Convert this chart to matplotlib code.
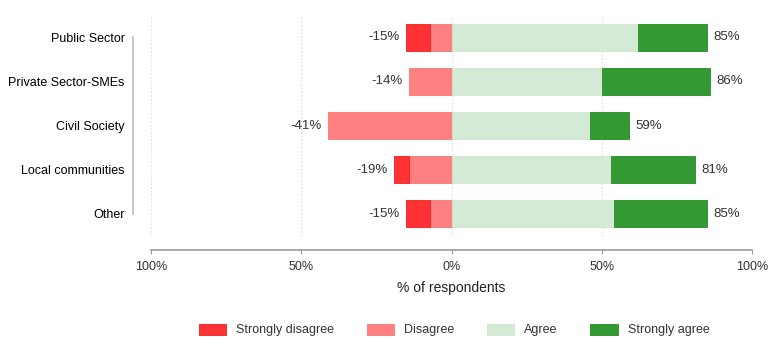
import numpy as np
import matplotlib.pyplot as plt
from matplotlib.ticker import FuncFormatter

plt.rcParams['font.family'] = ['Liberation Sans', 'DejaVu Sans']
plt.rcParams['font.size'] = 9

categories = ['Public Sector', 'Private Sector-SMEs', 'Civil Society',
              'Local communities', 'Other']
strongly_disagree = [8, 0, 0, 5, 8]
disagree = [7, 14, 41, 14, 7]
agree = [62, 50, 46, 53, 54]
strongly_agree = [23, 36, 13, 28, 31]
neg_labels = ['-15%', '-14%', '-41%', '-19%', '-15%']
pos_labels = ['85%', '86%', '59%', '81%', '85%']
ticks = [-100, -50, 0, 50, 100]

colors = {'Strongly disagree': '#ff3333', 'Disagree': '#ff8080',
          'Agree': '#d6ebd6', 'Strongly agree': '#339933'}
edges = {'Strongly disagree': '#f01c1c', 'Disagree': '#f77a7a',
         'Agree': '#cfe6cf', 'Strongly agree': '#2a8a2a'}
txt = '#333333'

fig = plt.figure(figsize=(7.7, 3.38), dpi=100)
ax = fig.add_axes([151 / 770, (338 - 236) / 338, 601 / 770, 221 / 338])

y = np.arange(len(categories))
sd = np.array(strongly_disagree)
d = np.array(disagree)
a = np.array(agree)
sa = np.array(strongly_agree)
h = 0.61


def lw(vals):
    # no outline for empty segments
    return [0.6 if v > 0 else 0 for v in vals]


ax.barh(y, -d, height=h, color=colors['Disagree'], edgecolor=edges['Disagree'],
        linewidth=lw(d), label='Disagree', zorder=2)
ax.barh(y, -sd, left=-d, height=h, color=colors['Strongly disagree'],
        edgecolor=edges['Strongly disagree'], linewidth=lw(sd),
        label='Strongly disagree', zorder=2)
ax.barh(y, a, height=h, color=colors['Agree'], edgecolor=edges['Agree'],
        linewidth=lw(a), label='Agree', zorder=2)
ax.barh(y, sa, left=a, height=h, color=colors['Strongly agree'],
        edgecolor=edges['Strongly agree'], linewidth=lw(sa),
        label='Strongly agree', zorder=2)

for i in range(len(categories)):
    ax.annotate(neg_labels[i], (-(sd[i] + d[i]), y[i]), xytext=(-5, 0),
                textcoords='offset points', ha='right', va='center',
                color=txt, fontsize=9.5)
    ax.annotate(pos_labels[i], (a[i] + sa[i], y[i]), xytext=(5, 0),
                textcoords='offset points', ha='left', va='center',
                color=txt, fontsize=9.5)

ax.set_xlim(-100, 100)
ax.set_ylim(len(categories) - 0.5, -0.5)
ax.set_yticks(y)
ax.set_yticklabels(categories, color=txt)
ax.set_xticks(ticks)
ax.xaxis.set_major_formatter(FuncFormatter(lambda v, p: '%d%%' % abs(v)))
ax.tick_params(axis='y', length=0, pad=6)
ax.tick_params(axis='x', length=3, color='#999999', labelcolor=txt, pad=5)
ax.set_xlabel('% of respondents', fontsize=10, color='#222222', labelpad=6)
ax.grid(axis='x', linestyle=':', color='#dddddd', linewidth=1, zorder=0)

for s in ['top', 'right']:
    ax.spines[s].set_visible(False)
ax.spines['left'].set_position(('outward', 13))
ax.spines['left'].set_bounds(0, len(categories) - 1)
ax.spines['left'].set_color('#bbbbbb')
ax.spines['bottom'].set_position(('outward', 10))
ax.spines['bottom'].set_color('#999999')
for s in ['left', 'bottom']:
    ax.spines[s].set_linewidth(1.2)

handles, labels = ax.get_legend_handles_labels()
order = ['Strongly disagree', 'Disagree', 'Agree', 'Strongly agree']
hmap = dict(zip(labels, handles))
fig.legend([hmap[k] for k in order], order, loc='center',
           bbox_to_anchor=(454 / 770, 1 - 330 / 338), ncol=4, frameon=False,
           handlelength=2.2, handleheight=1.0, handletextpad=0.8,
           columnspacing=2.6, labelcolor=txt, fontsize=9)

fig.savefig('out.png', dpi=100)
